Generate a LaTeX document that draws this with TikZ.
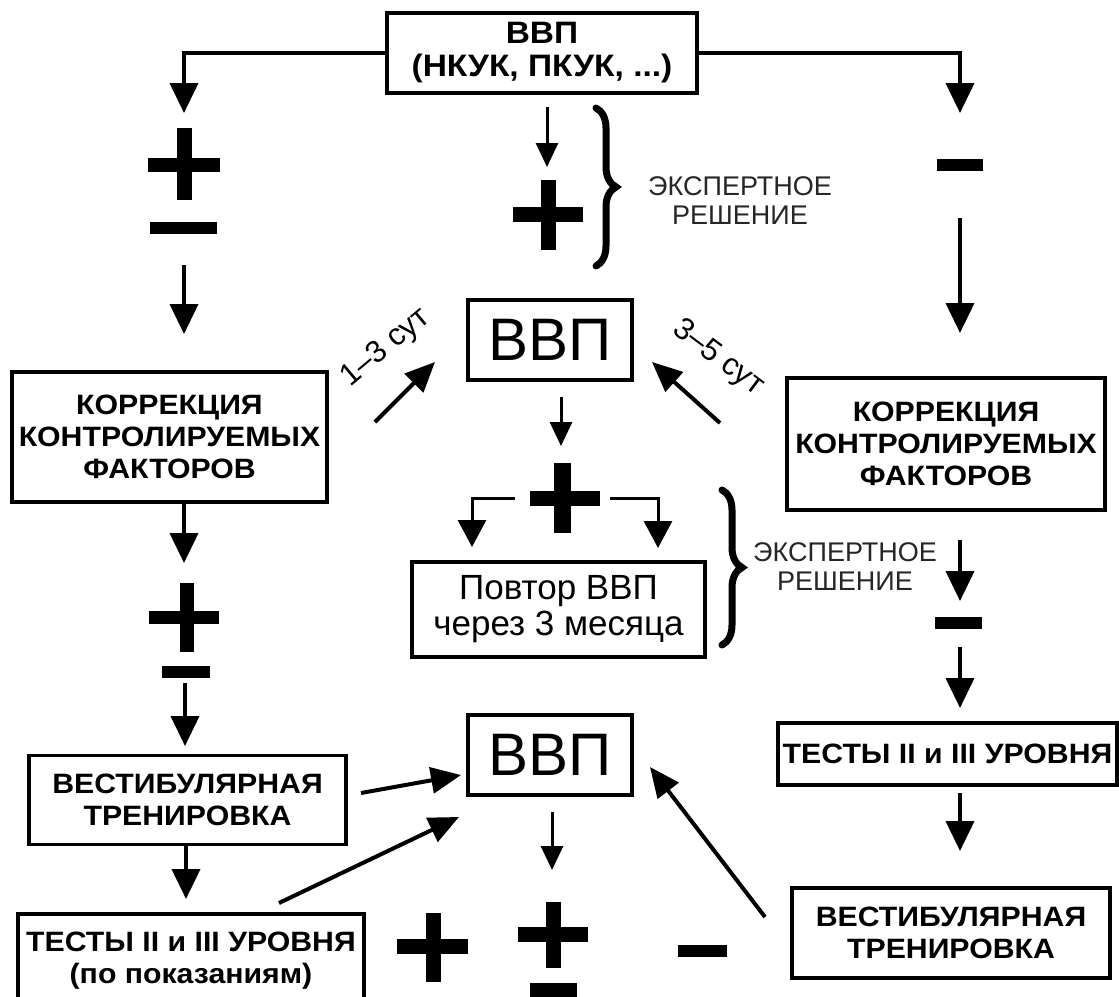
\documentclass[tikz,border=0pt]{standalone}
\usepackage{fontspec}
\setmainfont{Liberation Sans}
\newfontfamily\wideb[FakeStretch=1.08]{Liberation Sans}
\usetikzlibrary{arrows.meta,decorations.pathreplacing}
\begin{document}
\begin{tikzpicture}[x=1pt,y=-1pt,
  bx/.style={draw, line width=3.8pt, inner sep=0pt, align=center},
  bt/.style={font=\wideb\bfseries\fontsize{28}{32}\selectfont},
  topt/.style={font=\wideb\bfseries\fontsize{31}{33}\selectfont},
  bigt/.style={font=\fontsize{60}{60}\selectfont},
  rt/.style={font=\fontsize{35}{36}\selectfont},
  ex/.style={font=\fontsize{27}{29}\selectfont, text=black!85, align=center, inner sep=0pt},
  lbl/.style={font=\fontsize{31}{31}\selectfont, inner sep=0pt},
  arr/.style={line width=4pt, -{Triangle[length=30pt,width=28pt]}},
  tarr/.style={line width=3pt, -{Triangle[length=24pt,width=22pt]}},
  barr/.style={line width=3pt, -{Triangle[length=27pt,width=28pt]}},
  darr/.style={line width=4pt, -{Triangle[length=30pt,width=26pt]}},
  sign/.style={fill=black},
  brc/.style={line width=7pt, line cap=round, decorate, decoration={brace, amplitude=20pt}}
]
\useasboundingbox (0,0) rectangle (1119,996);
\clip (0,0) rectangle (1119,996);
\fill[white] (0,0) rectangle (1119,996);

% ---------- top ----------
\node[bx,topt,minimum width=310pt,minimum height=80pt] (top) at (542,53)
  {\raisebox{-6pt}{\begin{tabular}{@{}c@{}}ВВП\\(НКУК, ПКУК, ...)\end{tabular}}};
\coordinate (L1) at (184,113);
\coordinate (R1) at (960,113);
\draw[arr] (top.west) -| (L1);
\draw[arr] (top.east) -| (R1);

% ---------- left column ----------
\fill[sign] (177,128) rectangle (192,200);
\fill[sign] (148,158) rectangle (220,172);
\fill[sign] (150,222) rectangle (217,234);
\coordinate (L2a) at (184,265);
\coordinate (L2b) at (184,334);
\draw[arr] (L2a) -- (L2b);
\node[bx,bt,minimum width=315pt,minimum height=130pt] (kl) at (169.5,437) {КОРРЕКЦИЯ\\КОНТРОЛИРУЕМЫХ\\ФАКТОРОВ};
\coordinate (L3) at (184,563);
\draw[arr] (L3 |- kl.south) -- (L3);
\fill[sign] (180,583) rectangle (194,652);
\fill[sign] (149,611) rectangle (219,624);
\fill[sign] (162,666) rectangle (210,678);
\coordinate (L4a) at (185,683);
\coordinate (L4b) at (185,746);
\draw[arr] (L4a) -- (L4b);
\node[bx,bt,minimum width=317pt,minimum height=89pt] (vl) at (187.5,800) {ВЕСТИБУЛЯРНАЯ\\ТРЕНИРОВКА};
\coordinate (L5) at (186,899);
\draw[arr] (L5 |- vl.south) -- (L5);
\node[bx,bt,minimum width=346pt,minimum height=94pt] (tl) at (191,961) {ТЕСТЫ II и III УРОВНЯ\\(по показаниям)};

% ---------- middle ----------
\coordinate (M1a) at (547,107);
\coordinate (M1b) at (547,167);
\draw[tarr] (M1a) -- (M1b);
\fill[sign] (541,180) rectangle (556,250);
\fill[sign] (513,207) rectangle (583,222);
\draw[brc] (596,108) -- (596,266);
\node[ex] (ex1) at (740,201) {ЭКСПЕРТНОЕ\\РЕШЕНИЕ};

\node[bx,bigt,minimum width=164pt,minimum height=80pt] (v1) at (550,340) {ВВП};
\coordinate (D1a) at (375,422);
\coordinate (D1b) at (435,362);
\draw[darr] (D1a) -- (D1b);
\node[lbl,rotate=40] (s13) at (386,348) {1–3 сут};
\coordinate (D2a) at (720,423);
\coordinate (D2b) at (652,362);
\draw[darr] (D2a) -- (D2b);
\node[lbl,rotate=-37] (s35) at (718,358) {3–5 сут};

\coordinate (M2a) at (561,397);
\coordinate (M2b) at (561,446);
\draw[tarr] (M2a) -- (M2b);
\fill[sign] (554,463) rectangle (571,533);
\fill[sign] (530,491) rectangle (600,506);
\coordinate (B1a) at (515,498);
\coordinate (B1b) at (472,547);
\coordinate (B2a) at (610,498);
\coordinate (B2b) at (658,548);
\draw[barr] (B1a) -| (B1b);
\draw[barr] (B2a) -| (B2b);
\node[bx,rt,minimum width=293pt,minimum height=95pt] (rep) at (558.5,609.5) {Повтор ВВП\\через 3 месяца};
\draw[brc] (722,490) -- (722,645);
\node[ex] (ex2) at (845,567) {ЭКСПЕРТНОЕ\\РЕШЕНИЕ};

\node[bx,bigt,minimum width=164pt,minimum height=80pt] (v2) at (550,755) {ВВП};
\coordinate (E1a) at (361,793);
\coordinate (E1b) at (461,775);
\draw[darr] (E1a) -- (E1b);
\coordinate (E2a) at (279,903);
\coordinate (E2b) at (459,817);
\draw[darr] (E2a) -- (E2b);
\coordinate (E3a) at (765,917);
\coordinate (E3b) at (650,767);
\draw[darr] (E3a) -- (E3b);
\coordinate (M3a) at (552,812);
\coordinate (M3b) at (552,870);
\draw[tarr] (M3a) -- (M3b);
% bottom signs
\fill[sign] (426,913) rectangle (441,982);
\fill[sign] (397,939) rectangle (468,954);
\fill[sign] (546,902) rectangle (561,968);
\fill[sign] (518,927) rectangle (588,942);
\fill[sign] (530,983) rectangle (577,997);
\fill[sign] (678,945) rectangle (727,957);

% ---------- right column ----------
\fill[sign] (937,159) rectangle (983,171);
\coordinate (R2a) at (960,218);
\coordinate (R2b) at (960,333);
\draw[arr] (R2a) -- (R2b);
\node[bx,bt,minimum width=318pt,minimum height=132pt] (kr) at (946,444) {КОРРЕКЦИЯ\\КОНТРОЛИРУЕМЫХ\\ФАКТОРОВ};
\coordinate (R3a) at (960,540);
\coordinate (R3b) at (960,601);
\draw[arr] (R3a) -- (R3b);
\fill[sign] (935,617) rectangle (982,629);
\coordinate (R4a) at (960,647);
\coordinate (R4b) at (960,708);
\draw[arr] (R4a) -- (R4b);
\node[bx,bt,minimum width=339pt,minimum height=62pt] (tr) at (947.5,754) {ТЕСТЫ II и III УРОВНЯ};
\coordinate (R5a) at (960,793);
\coordinate (R5b) at (960,851);
\draw[arr] (R5a) -- (R5b);
\node[bx,bt,minimum width=318pt,minimum height=90pt] (vr) at (951,933) {ВЕСТИБУЛЯРНАЯ\\ТРЕНИРОВКА};
\end{tikzpicture}
\end{document}
